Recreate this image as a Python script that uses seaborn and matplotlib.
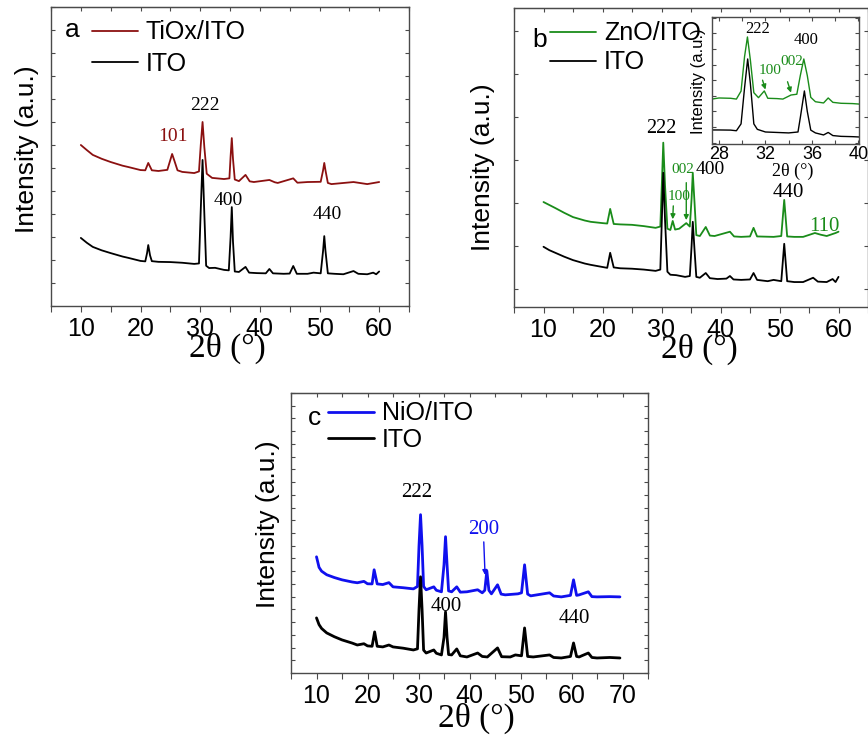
import matplotlib
matplotlib.use('Agg')
import matplotlib.pyplot as plt
import seaborn as sns
from matplotlib.ticker import MultipleLocator, NullFormatter

sns.set_style('ticks')
plt.rcParams['font.family'] = ['Liberation Sans', 'DejaVu Sans']
plt.rcParams['text.color'] = 'black'
plt.rcParams['axes.labelcolor'] = 'black'
plt.rcParams['xtick.labelcolor'] = 'black'
plt.rcParams['ytick.labelcolor'] = 'black'
SERIF = ['Liberation Serif', 'DejaVu Serif']

# ---------------- data ----------------
# Panel a : TiOx/ITO and ITO
a_ito_x = [10, 11, 12, 13.5, 15, 17, 18, 20, 20.8, 21.1, 21.3, 21.6, 21.9, 23, 25, 27, 29, 29.8, 30.1, 30.4,
           30.7, 31.0, 31.5, 32.5, 34, 34.8, 35.1, 35.3, 35.5, 35.8, 36.5, 37.6, 38.2, 39.5, 41.0, 41.6,
           42.2, 44, 45.0, 45.6, 46.2, 48, 49, 50.2, 50.6, 50.8, 51.0, 51.4, 52.5, 54, 55.7, 56.5, 58, 59,
           59.5, 60]
a_ito_y = [2.96, 2.75, 2.57, 2.42, 2.30, 2.15, 2.09, 1.96, 1.94, 2.3, 2.65, 2.2, 1.95, 1.92, 1.91, 1.88,
           1.83, 1.85, 4.2, 6.35, 4.0, 1.75, 1.65, 1.66, 1.57, 1.55, 3.0, 4.30, 2.8, 1.50, 1.48, 1.70,
           1.45, 1.43, 1.42, 1.61, 1.42, 1.40, 1.41, 1.74, 1.40, 1.40, 1.45, 1.42, 2.4, 3.04, 2.4, 1.42,
           1.40, 1.38, 1.52, 1.40, 1.38, 1.45, 1.38, 1.50]
a_film_x = [10, 11, 12, 13.5, 15, 17, 18, 20, 20.8, 21.3, 21.9, 23, 24.5, 25.0, 25.3, 25.7, 26.2, 27, 29,
            29.8, 30.1, 30.4, 30.7, 31.1, 32, 34, 34.9, 35.1, 35.3, 35.5, 35.8, 36.5, 37.6, 38.3, 39,
            41.6, 42.5, 43, 45.6, 46.3, 48, 50.2, 50.6, 50.8, 51.0, 51.4, 52, 55.7, 58, 60]
a_film_y = [7.0, 6.78, 6.57, 6.40, 6.26, 6.10, 6.04, 5.91, 5.90, 6.22, 5.90, 5.87, 5.92, 6.35, 6.61, 6.3,
            5.90, 5.83, 5.78, 5.85, 7.0, 8.0, 6.9, 5.75, 5.57, 5.52, 5.55, 6.5, 7.30, 6.4, 5.50, 5.43,
            5.70, 5.42, 5.39, 5.48, 5.38, 5.35, 5.55, 5.36, 5.39, 5.40, 5.9, 6.22, 5.9, 5.35, 5.30, 5.39,
            5.30, 5.39]
a_lab = ['101', '222', '400', '440']
a_lab_x = [25.5, 30.8, 34.7, 51.3]
a_lab_y = [7.35, 8.7, 4.57, 3.96]
a_lab_c = ['#8b1010', 'black', 'black', 'black']

# Panel b : ZnO/ITO and ITO
b_ito_x = [10, 11, 12, 13.5, 15, 17, 18, 20, 20.8, 21.3, 21.9, 23, 25, 27, 29, 29.8, 30.1, 30.3, 30.6,
           31.0, 31.5, 32.5, 34, 34.8, 35.1, 35.3, 35.6, 35.9, 36.5, 37.5, 38.2, 39.5, 41.0, 41.6, 42.2,
           43.5, 45.0, 45.6, 46.2, 48, 49, 50.3, 50.8, 51.3, 52.5, 54, 55.7, 56.5, 58, 59, 59.5, 60]
b_ito_y = [0.98, 0.90, 0.84, 0.75, 0.67, 0.59, 0.56, 0.51, 0.49, 0.84, 0.50, 0.48, 0.47, 0.45, 0.42,
           0.45, 1.8, 2.70, 1.6, 0.40, 0.33, 0.32, 0.28, 0.30, 1.0, 1.56, 0.9, 0.28, 0.26, 0.37, 0.25,
           0.23, 0.24, 0.30, 0.22, 0.21, 0.22, 0.37, 0.21, 0.18, 0.21, 0.18, 1.05, 0.18, 0.16, 0.16,
           0.26, 0.17, 0.16, 0.23, 0.16, 0.28]
b_film_x = [10, 11, 12, 13.5, 15, 17, 18, 20, 20.8, 21.3, 21.9, 23, 25, 27, 29, 29.8, 30.1, 30.3, 30.6,
            31.0, 31.5, 31.9, 32.3, 33, 34.2, 34.8, 35.1, 35.3, 35.6, 35.9, 36.5, 37.5, 38.2, 39, 41.6,
            42.3, 43.5, 45.0, 45.6, 46.2, 49, 50.3, 50.8, 51.3, 52.5, 54, 56, 57, 58, 59.5, 60]
b_film_y = [2.02, 1.95, 1.88, 1.77, 1.67, 1.59, 1.56, 1.53, 1.52, 1.86, 1.51, 1.50, 1.49, 1.46, 1.42,
            1.45, 2.6, 3.40, 2.4, 1.40, 1.37, 1.58, 1.38, 1.40, 1.53, 1.45, 2.1, 2.70, 2.0, 1.25, 1.23,
            1.44, 1.24, 1.23, 1.33, 1.22, 1.21, 1.22, 1.42, 1.22, 1.21, 1.23, 2.07, 1.22, 1.21, 1.21,
            1.30, 1.26, 1.23, 1.30, 1.33]
b_lab = ['222', '002', '400', '100', '440', '110']
b_lab_x = [30.0, 33.6, 38.3, 32.9, 51.5, 57.6]
b_lab_y = [3.74, 2.77, 2.77, 2.14, 2.23, 1.44]
b_lab_c = ['black', '#1a8c1a', 'black', '#1a8c1a', 'black', '#1a8c1a']
b_lab_s = [14.5, 11, 14, 11, 15, 15]

# Inset of panel b (27.4 - 40 deg)
i_ito_x = [27.4, 28, 29, 29.5, 29.9, 30.2, 30.47, 30.7, 31.0, 31.3, 32, 33, 34, 34.8, 35.0, 35.35,
           35.6, 35.9, 36.3, 37, 37.4, 37.8, 38.5, 39.5, 40.05]
i_ito_y = [0.81, 0.81, 0.80, 0.76, 1.2, 3.5, 5.36, 3.8, 1.2, 0.85, 0.68, 0.65, 0.62, 0.68, 1.6, 3.31,
           2.0, 0.8, 0.62, 0.49, 0.65, 0.45, 0.40, 0.38, 0.36]
i_film_x = [27.4, 28, 29, 29.5, 29.9, 30.2, 30.45, 30.7, 31.0, 31.4, 31.9, 32.2, 33, 33.5, 34.2, 34.7,
            35.0, 35.3, 35.6, 35.9, 36.3, 37, 37.4, 37.8, 38.5, 39.5, 40.05]
i_film_y = [2.79, 2.86, 2.84, 2.79, 3.3, 5.5, 6.77, 5.3, 3.2, 2.88, 3.31, 2.84, 2.82, 2.79, 3.05, 3.1,
            4.3, 5.36, 4.3, 2.9, 2.62, 2.54, 2.86, 2.58, 2.52, 2.50, 2.47]
i_lab = ['222', '400', '100', '002']
i_lab_x = [31.3, 35.5, 32.4, 34.3]
i_lab_y = [7.28, 6.58, 4.59, 5.17]
i_lab_c = ['black', 'black', '#1a8c1a', '#1a8c1a']

# Panel c : NiO/ITO and ITO
c_ito_x = [10, 10.5, 11, 12, 13.5, 15, 17, 18, 19.3, 20, 20.9, 21.4, 21.9, 23, 24.2, 25, 27, 29, 29.8,
           30.1, 30.4, 30.7, 31.0, 31.5, 33, 33.5, 34.5, 35.0, 35.3, 35.6, 35.9, 36.5, 37.5, 38.2, 39.5,
           41.6, 42.5, 43.5, 45.5, 46.3, 48, 49, 50.2, 50.8, 51.4, 52.5, 55.7, 56.5, 58, 59.8, 60.4,
           61.0, 61.5, 62, 63.3, 64, 65, 67.5, 69.5]
c_ito_y = [4.33, 3.8, 3.5, 3.15, 2.85, 2.60, 2.35, 2.20, 2.3, 2.13, 2.1, 3.23, 2.1, 2.05, 2.2, 2.05,
           1.95, 1.81, 1.9, 5.0, 7.56, 5.0, 1.8, 1.57, 1.81, 1.55, 1.42, 2.8, 4.80, 2.8, 1.45, 1.42,
           1.89, 1.35, 1.26, 1.57, 1.30, 1.26, 1.97, 1.28, 1.26, 1.42, 1.35, 3.54, 1.30, 1.26, 1.42,
           1.22, 1.18, 1.3, 2.36, 1.3, 1.26, 1.35, 1.57, 1.22, 1.18, 1.22, 1.18]
c_film_x = [10, 10.5, 11, 12, 13.5, 15, 17, 18, 19.3, 20, 20.9, 21.3, 21.9, 23, 24.2, 25, 27, 29, 29.8,
            30.1, 30.4, 30.7, 31.0, 31.5, 33, 33.5, 34.5, 35.0, 35.3, 35.6, 35.9, 36.5, 37.5, 38.2,
            39.5, 41.6, 42.5, 43.0, 43.4, 43.8, 44.3, 45.5, 46.2, 47, 49.5, 50.2, 50.8, 51.4, 52, 55.7,
            56.5, 58, 59.8, 60.4, 61.0, 61.5, 63.3, 64, 65, 67.5, 69.5]
c_film_y = [9.13, 8.3, 8.0, 7.72, 7.5, 7.32, 7.15, 7.09, 7.2, 7.01, 7.0, 8.11, 7.0, 6.95, 7.1, 6.77,
            6.7, 6.61, 6.8, 10.0, 12.44, 10.0, 6.8, 6.54, 6.77, 6.5, 6.38, 8.5, 10.71, 8.5, 6.45, 6.38,
            6.77, 6.35, 6.38, 6.54, 6.30, 6.5, 8.03, 6.5, 6.22, 6.93, 6.2, 6.14, 6.22, 6.3, 8.50, 6.2,
            6.06, 6.30, 6.05, 5.98, 6.1, 7.32, 6.1, 6.14, 6.38, 6.0, 5.98, 6.0, 5.98]
c_lab = ['222', '200', '400', '440']
c_lab_x = [29.6, 42.8, 35.5, 60.6]
c_lab_y = [14.2, 11.26, 5.2, 4.25]
c_lab_c = ['black', '#1010ee', 'black', 'black']

# arrows (start -> tip)
b_arrows = [((32.0, 1.93), (31.9, 1.62), '#1a8c1a'), ((34.2, 2.47), (34.2, 1.6), '#1a8c1a')]
i_arrows = [((31.75, 4.0), (32.0, 3.4), '#1a8c1a'), ((33.9, 3.9), (34.2, 3.2), '#1a8c1a')]
c_arrows = [((42.8, 10.3), (43.05, 7.7), '#1010ee')]

W, H = 868, 740
fig = plt.figure(figsize=(W / 100, H / 100), dpi=100)


def frac(l, r, t, b):
    return [l / W, 1 - b / H, (r - l) / W, (b - t) / H]


SPINE = '#4a4a4a'


def style(ax, xlim, ylim, ystep, xmaj=10, xmin=5, tsize=18, inset=False):
    ax.set_xlim(*xlim)
    ax.set_ylim(*ylim)
    ax.xaxis.set_major_locator(MultipleLocator(xmaj))
    ax.xaxis.set_minor_locator(MultipleLocator(xmin))
    ax.yaxis.set_major_locator(MultipleLocator(ystep))
    ax.yaxis.set_major_formatter(NullFormatter())
    for s in ax.spines.values():
        s.set_visible(True)
        s.set_color(SPINE)
        s.set_linewidth(1.0)
    if inset:
        ax.tick_params(axis='x', which='both', direction='in', top=True, length=3, width=0.8,
                       color=SPINE, labelsize=tsize, pad=1.5, labelcolor='black')
    else:
        ax.tick_params(axis='x', which='both', direction='out', length=4, width=0.8, color=SPINE,
                       labelsize=tsize, pad=4, labelcolor='black')
        sec = ax.secondary_xaxis('top')
        sec.xaxis.set_major_locator(MultipleLocator(xmaj))
        sec.xaxis.set_minor_locator(MultipleLocator(xmin))
        sec.tick_params(which='both', direction='in', length=3, width=0.8, color=SPINE,
                        labeltop=False)
        sec.spines['top'].set_color(SPINE)
    ax.tick_params(axis='y', which='both', direction='in', left=True, right=True, length=3,
                   width=0.8, color=SPINE)
    ax.set_xlabel('')
    ax.set_ylabel('')


def draw(ax, fx, fy, fcol, flabel, ix, iy, lw):
    sns.lineplot(x=fx, y=fy, ax=ax, color=fcol, lw=lw, label=flabel)
    sns.lineplot(x=ix, y=iy, ax=ax, color='black', lw=lw, label='ITO')


def labels(ax, names, xs, ys, cols, sizes):
    for s, x, y, c, fs in zip(names, xs, ys, cols, sizes):
        ax.text(x, y, s, color=c, ha='center', va='center', fontsize=fs, family=SERIF)


def arrows(ax, arr):
    for start, tip, c in arr:
        ax.annotate('', xy=tip, xytext=start,
                    arrowprops=dict(arrowstyle='-|>', color=c, lw=1.0, mutation_scale=7,
                                    shrinkA=0, shrinkB=0))


def legend(ax, x, y, spacing):
    leg = ax.legend(loc='upper left', bbox_to_anchor=(x, y), frameon=False, fontsize=18,
                    handlelength=1.85, handletextpad=0.3, labelspacing=spacing, borderpad=0,
                    borderaxespad=0)
    for t in leg.get_texts():
        t.set_color('black')


def axlabels(ax, xl_pos, yl_pos, size=19, xsize=24):
    ax.set_ylabel('Intensity (a.u.)', fontsize=size, color='black')
    ax.yaxis.set_label_coords(*yl_pos)
    ax.set_xlabel('2θ (°)', fontsize=xsize, family=SERIF, color='black')
    ax.xaxis.set_label_coords(*xl_pos)


# ---------------- panel a ----------------
axa = fig.add_axes(frac(51, 409, 7, 306))
draw(axa, a_film_x, a_film_y, '#8b1010', 'TiOx/ITO', a_ito_x, a_ito_y, 1.3)
style(axa, (5, 65), (0, 13), 1)
labels(axa, a_lab, a_lab_x, a_lab_y, a_lab_c, [14, 14, 14, 14])
legend(axa, 0.1145, 0.955, 0.3)
axa.text(0.039, 0.90, 'a', transform=axa.transAxes, fontsize=19, va='baseline', ha='left')
axlabels(axa, (0.494, -0.088), (-0.034, 0.525))

# ---------------- panel b ----------------
axb = fig.add_axes(frac(514, 868, 8, 307))
draw(axb, b_film_x, b_film_y, '#1a8c1a', 'ZnO/ITO', b_ito_x, b_ito_y, 1.3)
style(axb, (5, 65), (-0.42, 6.53), 1)
labels(axb, b_lab, b_lab_x, b_lab_y, b_lab_c, b_lab_s)
arrows(axb, b_arrows)
legend(axb, 0.102, 0.955, 0.2)
axb.text(0.051, 0.87, 'b', transform=axb.transAxes, fontsize=19, va='baseline', ha='left')
axlabels(axb, (0.525, -0.088), (-0.054, 0.468))

# ---------------- inset ----------------
axi = fig.add_axes(frac(712, 859, 17, 144))
sns.lineplot(x=i_film_x, y=i_film_y, ax=axi, color='#1a8c1a', lw=1.0)
sns.lineplot(x=i_ito_x, y=i_ito_y, ax=axi, color='black', lw=1.0)
style(axi, (27.4, 40.05), (-0.09, 8.05), 1, xmaj=4, xmin=2, tsize=13, inset=True)
labels(axi, i_lab, i_lab_x, i_lab_y, i_lab_c, [12, 12, 11, 11])
arrows(axi, i_arrows)
axi.set_ylabel('Intensity (a.u.)', fontsize=12, color='black')
axi.yaxis.set_label_coords(-0.04, 0.496)
axi.set_xlabel('2θ (°)', fontsize=13, family=SERIF, color='black')
axi.xaxis.set_label_coords(0.55, -0.15)

# ---------------- panel c ----------------
axc = fig.add_axes(frac(291, 648, 393, 673))
draw(axc, c_film_x, c_film_y, '#1010ee', 'NiO/ITO', c_ito_x, c_ito_y, 2.0)
style(axc, (5, 75), (0, 22), 1)
labels(axc, c_lab, c_lab_x, c_lab_y, c_lab_c, [15, 15, 15, 15])
arrows(axc, c_arrows)
legend(axc, 0.104, 0.97, 0.1)
axc.text(0.048, 0.886, 'c', transform=axc.transAxes, fontsize=19, va='baseline', ha='left')
axlabels(axc, (0.52, -0.108), (-0.031, 0.532))

fig.savefig('out.png', dpi=100)
